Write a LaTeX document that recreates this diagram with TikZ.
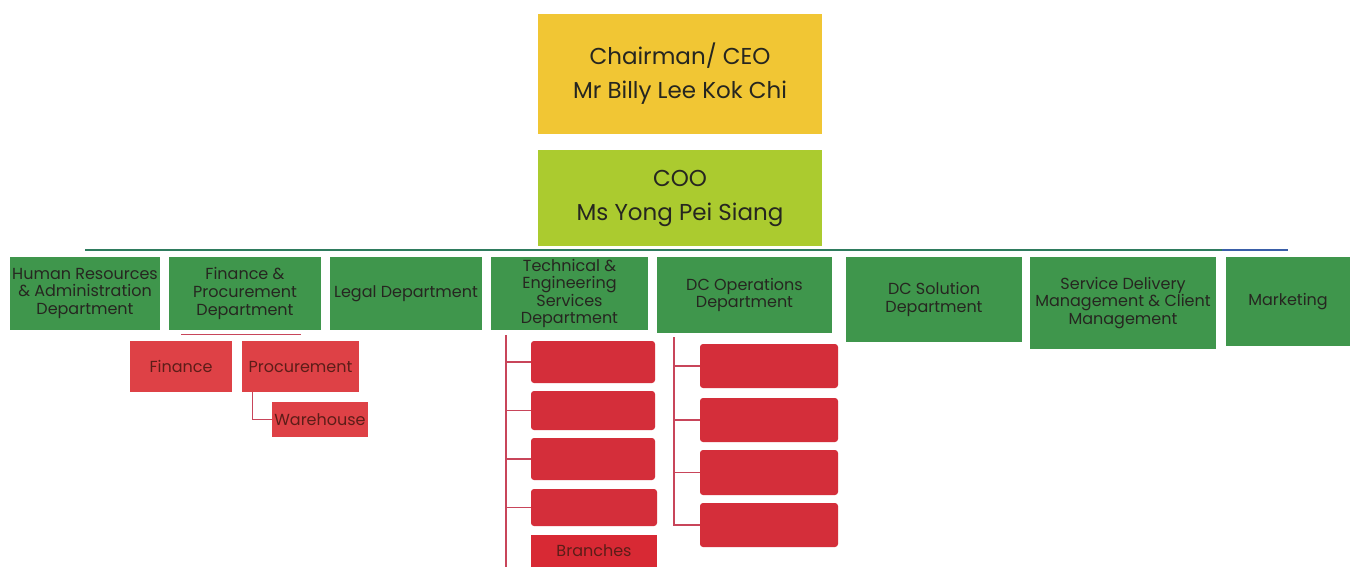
\documentclass[tikz,border=0pt]{standalone}
\usepackage{fontspec}
\setmainfont{Poppins}
\definecolor{ceo}{HTML}{F1C634}
\definecolor{coo}{HTML}{ABCB2F}
\definecolor{dept}{HTML}{3F964C}
\definecolor{redA}{HTML}{D42E3A}
\definecolor{redB}{HTML}{DE4146}
\definecolor{txt}{HTML}{262620}
\definecolor{barc}{HTML}{2F7C5E}
\definecolor{barblue}{HTML}{3A5FA8}
\definecolor{redline}{HTML}{C8455A}
\begin{document}
\begin{tikzpicture}[x=1pt,y=-1pt,
  top/.style={draw=none,align=center,text=txt,font=\fontsize{23}{34}\selectfont,inner sep=0pt,minimum width=284pt},
  deptbox/.style={fill=dept,draw=none,align=center,text=txt,font=\fontsize{16}{17.6}\selectfont,inner sep=0pt},
  subbox/.style={fill=redB,draw=none,align=center,text=txt!75!red,font=\fontsize{16}{18}\selectfont,inner sep=0pt},
  hidbox/.style={fill=redA,draw=none,rounded corners=3pt,inner sep=0pt},
  barline/.style={draw=barc,line width=1.2pt},
  redcon/.style={draw=redline,line width=1.2pt}]
\useasboundingbox (0,0) rectangle (1356,567);
\fill[white] (0,0) rectangle (1356,567);
% top
\node[top,fill=ceo,minimum height=120pt] (ceo) at (680,74) {Chairman/ CEO\\Mr Billy Lee Kok Chi};
\node[top,fill=coo,minimum height=96pt] (coo) at (680,198) {COO\\Ms Yong Pei Siang};
% departments
\node[deptbox,minimum width=150pt,minimum height=73pt] (hr) at (85,293.5) {Human Resources\\\& Administration\\Department};
\node[deptbox,minimum width=152pt,minimum height=73pt] (fp) at (245,293.5) {Finance \&\\Procurement\\Department};
\node[deptbox,minimum width=152pt,minimum height=73pt] (legal) at (406,293.5) {Legal Department};
\node[deptbox,minimum width=157pt,minimum height=73pt] (tech) at (569.5,293.5) {Technical \&\\Engineering\\Services\\Department};
\node[deptbox,minimum width=175pt,minimum height=76pt] (dcops) at (744.5,295) {DC Operations\\Department};
\node[deptbox,minimum width=176pt,minimum height=85pt] (dcsol) at (934,299.5) {DC Solution\\Department};
\node[deptbox,minimum width=186pt,minimum height=92pt] (sdm) at (1123,303) {Service Delivery\\Management \& Client\\Management};
\node[deptbox,minimum width=124pt,minimum height=89pt] (mkt) at (1288,301.5) {Marketing};
\coordinate (bar) at (0,250);
\coordinate (barb) at (1222,250);
\draw[barline] (hr.north |- bar) -- (mkt.north |- bar);
\draw[barline,draw=barblue] (barb) -- (mkt.north |- bar);
% finance subunits
\node[subbox,minimum width=102pt,minimum height=51pt] (fin) at (181,366.5) {Finance};
\node[subbox,minimum width=117pt,minimum height=51pt] (proc) at (300.5,366.5) {Procurement};
\node[subbox,minimum width=96pt,minimum height=35pt] (wh) at (320,419.5) {Warehouse};
\draw[redcon] ([yshift=6pt]fin.north) -- ([yshift=6pt]proc.north);
\draw[redcon] ([xshift=11pt]proc.south west) |- (wh.west);
% technical subunits
\node[hidbox,minimum width=124pt,minimum height=42pt] (t1) at (593,362) {};
\node[hidbox,minimum width=124pt,minimum height=39pt] (t2) at (593,410.5) {};
\node[hidbox,minimum width=124pt,minimum height=42pt] (t3) at (593,459) {};
\node[hidbox,minimum width=126pt,minimum height=37pt] (t4) at (594,507.5) {};
\node[subbox,fill=redA!90!red,minimum width=126pt,minimum height=32pt] (br) at (594,551) {Branches};
\coordinate (tv) at (506,335);
\coordinate (tvend) at (506,567);
\draw[redcon] (tv) -- (tvend);
\foreach \n in {t1,t2,t3,t4}{\draw[redcon] (tv |- \n.west) -- (\n.west);}
% DC ops subunits
\node[hidbox,minimum width=138pt,minimum height=44pt] (d1) at (769,366) {};
\node[hidbox,minimum width=138pt,minimum height=44pt] (d2) at (769,420) {};
\node[hidbox,minimum width=138pt,minimum height=45pt] (d3) at (769,472.5) {};
\node[hidbox,minimum width=138pt,minimum height=44pt] (d4) at (769,525) {};
\coordinate (dv) at (674,337);
\draw[redcon] (dv) |- (d4.west);
\foreach \n in {d1,d2,d3}{\draw[redcon] (dv |- \n.west) -- (\n.west);}
\end{tikzpicture}
\end{document}
